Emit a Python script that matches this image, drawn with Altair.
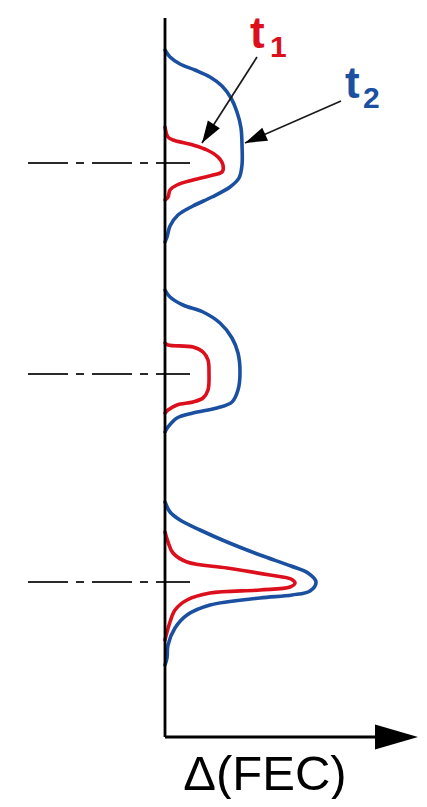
import math
import altair as alt
import pandas as pd

# ---- curves (Δ(FEC) along x, depth along y, arbitrary units) ----
t1_top_dfec   = [0, 3, 8, 28, 42, 53, 58, 57, 48, 28, 12, 5, 3, 0]
t1_top_depth  = [107, 117, 120, 125, 130, 137, 145, 152, 155, 160, 165, 170, 177, 180]
t2_top_dfec   = [0, 5, 15, 30, 45, 57, 66, 72, 76, 77, 77, 74, 65, 47, 28, 13, 5, 2, 0]
t2_top_depth  = [30, 37, 44, 50, 57, 66, 78, 92, 108, 125, 145, 158, 167, 177, 186, 195, 206, 217, 222]

t1_mid_dfec   = [0, 3, 28, 38, 43, 44, 43, 38, 28, 12, 3, 0]
t1_mid_depth  = [323, 325, 327, 332, 340, 353, 370, 378, 382, 385, 390, 393]
t2_mid_dfec   = [0, 5, 18, 38, 55, 67, 73, 75, 73, 67, 52, 28, 12, 3, 0]
t2_mid_depth  = [270, 277, 285, 292, 303, 318, 333, 353, 370, 382, 388, 393, 398, 407, 412]

t1_bot_dfec   = [0, 3, 8, 22, 62, 105, 126, 130, 125, 95, 45, 22, 10, 5, 2, 0]
t1_bot_depth  = [512, 522, 533, 542, 548, 555, 559, 563, 567, 570, 573, 580, 590, 602, 612, 620]
t2_bot_dfec   = [0, 5, 15, 35, 62, 95, 126, 143, 151, 145, 127, 95, 45, 22, 10, 3, 2, 0]
t2_bot_depth  = [482, 492, 500, 510, 522, 535, 546, 553, 562, 571, 575, 578, 585, 595, 608, 625, 638, 645]

# reference depths (dash-dot lines)
ref_depths = [143, 354, 562]
ref_from, ref_to = -137, 25

# axes
axis_depth_end = 717
axis_x_end = 253

# label arrows: start (dfec, depth) -> tip (dfec, depth)
arrow_start = [(92, 37), (176, 81)]
arrow_tip = [(37, 123), (80, 123)]

# label texts and positions
label_txt = ["t", "1", "t", "2"]
label_series = ["t1", "t1", "t2", "t2"]
label_x = [85, 105, 180, 198]
label_y = [28, 37, 78, 88]
label_size = [44, 30, 44, 30]

RED = "#dc0f1c"
BLUE = "#1b50a0"

W, H = 411, 791
xs = alt.Scale(domain=[-157, -157 + W], range=[0, W], nice=False, zero=False)
ys = alt.Scale(domain=[-12, -12 + H], range=[0, H], nice=False, zero=False)

rows = []
curves = [
    ("t1", "top", t1_top_dfec, t1_top_depth),
    ("t2", "top", t2_top_dfec, t2_top_depth),
    ("t1", "mid", t1_mid_dfec, t1_mid_depth),
    ("t2", "mid", t2_mid_dfec, t2_mid_depth),
    ("t1", "bot", t1_bot_dfec, t1_bot_depth),
    ("t2", "bot", t2_bot_dfec, t2_bot_depth),
]
for s, part, xv, yv in curves:
    for i, (a, b) in enumerate(zip(xv, yv)):
        rows.append({"series": s, "curve": s + part, "i": i, "dfec": a, "depth": b})
curve_df = pd.DataFrame(rows)

color_scale = alt.Scale(domain=["t1", "t2"], range=[RED, BLUE])

lines = alt.Chart(curve_df).mark_line(
    strokeWidth=3.6, interpolate="catmull-rom", strokeCap="round", strokeJoin="round"
).encode(
    x=alt.X("dfec:Q", scale=xs, axis=None),
    y=alt.Y("depth:Q", scale=ys, axis=None),
    detail="curve:N",
    order="i:Q",
    color=alt.Color("series:N", scale=color_scale, legend=None),
)

ref_df = pd.DataFrame({"depth": ref_depths, "x0": [ref_from] * 3, "x1": [ref_to] * 3})
refs = alt.Chart(ref_df).mark_rule(color="#2a2a2a", strokeWidth=1.8, strokeDash=[40, 8, 8, 8]).encode(
    x=alt.X("x0:Q", scale=xs, axis=None),
    x2="x1:Q",
    y=alt.Y("depth:Q", scale=ys, axis=None),
)

axes_df = pd.DataFrame({
    "x0": [0, 0], "x1": [0, axis_x_end - 40],
    "y0": [-2, axis_depth_end], "y1": [axis_depth_end, axis_depth_end],
})
axes = alt.Chart(axes_df).mark_rule(color="black", strokeWidth=2.8).encode(
    x=alt.X("x0:Q", scale=xs, axis=None), x2="x1:Q",
    y=alt.Y("y0:Q", scale=ys, axis=None), y2="y1:Q",
)

def ang(p0, p1):
    # screen direction: x right, y down (depth increases downward)
    dx = p1[0] - p0[0]
    dy = p1[1] - p0[1]
    return (math.degrees(math.atan2(dx, -dy)) + 360) % 360

arr_df = pd.DataFrame({
    "x0": [p[0] for p in arrow_start], "y0": [p[1] for p in arrow_start],
    "x1": [p[0] for p in arrow_tip], "y1": [p[1] for p in arrow_tip],
    "ang": [ang(a, b) for a, b in zip(arrow_start, arrow_tip)],
})
arr_lines = alt.Chart(arr_df).mark_rule(color="#1a1a1a", strokeWidth=1.7).encode(
    x=alt.X("x0:Q", scale=xs, axis=None), x2="x1:Q",
    y=alt.Y("y0:Q", scale=ys, axis=None), y2="y1:Q",
)
arr_heads = alt.Chart(arr_df).mark_point(
    shape="M0,0L-0.65,2L0.65,2Z", filled=True, color="black", opacity=1, size=484, strokeWidth=0
).encode(
    x=alt.X("x1:Q", scale=xs, axis=None),
    y=alt.Y("y1:Q", scale=ys, axis=None),
    angle=alt.Angle("ang:Q", scale=None),
)

main_head_df = pd.DataFrame({"x": [axis_x_end], "y": [axis_depth_end], "ang": [90]})
main_head = alt.Chart(main_head_df).mark_point(
    shape="M0,0L-0.58,2L0.58,2Z", filled=True, color="black", opacity=1, size=1849, strokeWidth=0
).encode(
    x=alt.X("x:Q", scale=xs, axis=None),
    y=alt.Y("y:Q", scale=ys, axis=None),
    angle=alt.Angle("ang:Q", scale=None),
)

lab_df = pd.DataFrame({
    "txt": label_txt, "series": label_series,
    "x": label_x, "y": label_y, "size": label_size,
})
labels = alt.Chart(lab_df).mark_text(
    align="left", baseline="alphabetic", font="Liberation Sans", fontWeight="bold"
).encode(
    x=alt.X("x:Q", scale=xs, axis=None),
    y=alt.Y("y:Q", scale=ys, axis=None),
    text="txt:N",
    size=alt.Size("size:Q", scale=None),
    color=alt.Color("series:N", scale=color_scale, legend=None),
)

xlab_df = pd.DataFrame({"txt": ["Δ(FEC)"], "x": [100], "y": [770]})
xlab = alt.Chart(xlab_df).mark_text(
    align="center", baseline="alphabetic", font="Liberation Sans", fontSize=49, color="black"
).encode(
    x=alt.X("x:Q", scale=xs, axis=None),
    y=alt.Y("y:Q", scale=ys, axis=None),
    text="txt:N",
)

chart = alt.layer(refs, lines, axes, arr_lines, arr_heads, main_head, labels, xlab).properties(
    width=W, height=H, autosize=alt.AutoSizeParams(type="none"), padding=0
).configure_view(stroke=None)

chart.save("out.html", embed_options={"renderer": "svg", "actions": False})
